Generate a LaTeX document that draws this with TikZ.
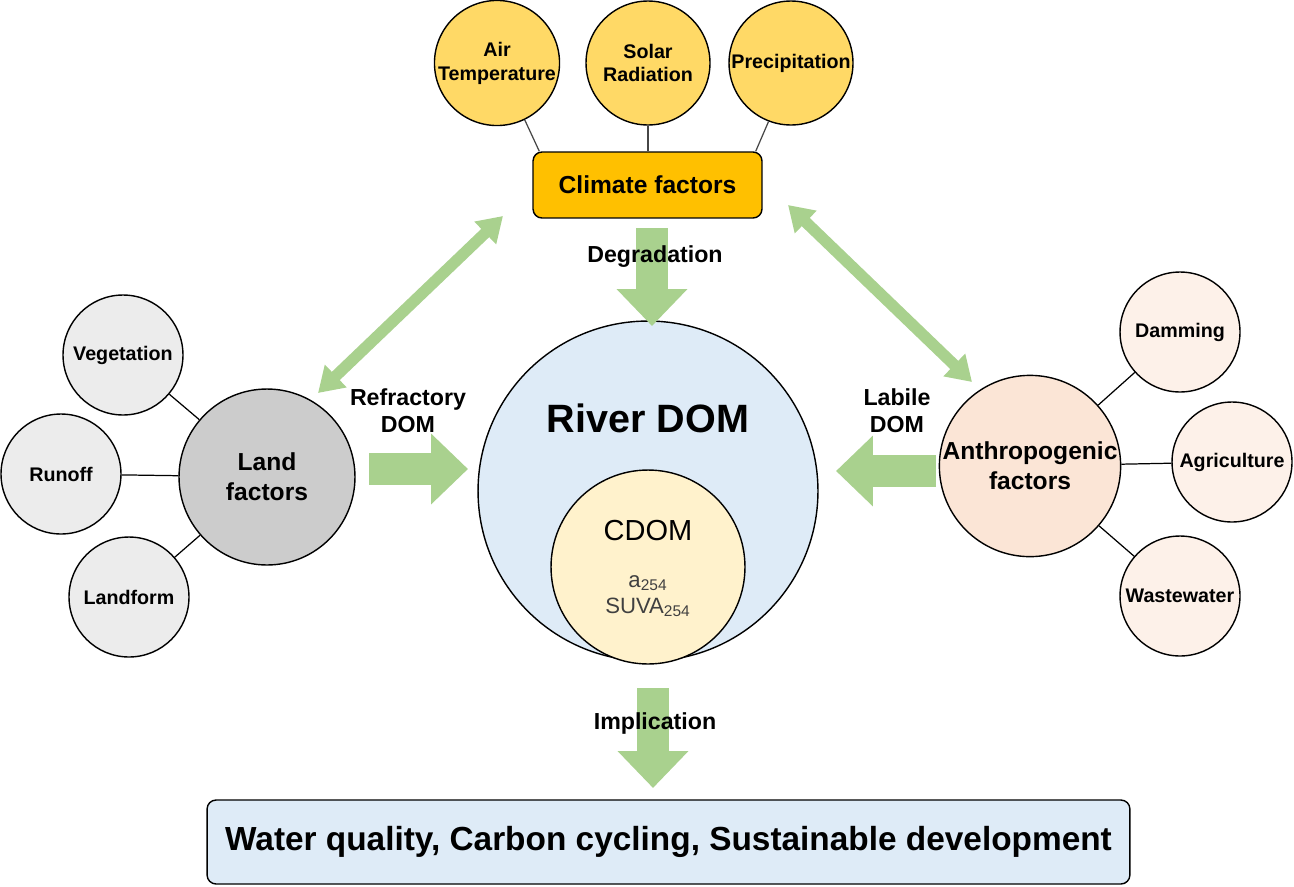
\documentclass[tikz,border=0pt]{standalone}
\usepackage{fontspec}
\setmainfont{Liberation Sans}
\usepackage{xcolor}
\definecolor{ArrowGreen}{RGB}{169,209,142}
\definecolor{ClimateFill}{RGB}{255,192,0}
\definecolor{ClimateNode}{RGB}{255,217,102}
\definecolor{LandFill}{RGB}{204,204,204}
\definecolor{LandNode}{RGB}{236,236,236}
\definecolor{HumanFill}{RGB}{251,229,214}
\definecolor{HumanNode}{RGB}{253,241,233}
\definecolor{RiverFill}{RGB}{222,235,247}
\definecolor{CdomFill}{RGB}{255,242,204}
\definecolor{LinkColor}{RGB}{70,70,70}
\usepackage{tikz}
\usetikzlibrary{
  positioning,
  arrows.meta,
  calc
}
\tikzset{
  % Small factor circle
  fnode/.style={
    circle,
    draw=black,
    line width=0.8pt,
    minimum size=2.4cm,
    inner sep=0pt,
    align=center,
    font=\fontsize{11.2}{13.6}\selectfont\bfseries
  },
  % Climate factor circle
  cnode/.style={fnode, fill=ClimateNode, minimum size=2.48cm},
  % Main factor circle
  mnode/.style={
    circle,
    draw=black,
    line width=0.8pt,
    minimum size=3.52cm,
    inner sep=0pt,
    align=center,
    font=\fontsize{14}{17}\selectfont\bfseries
  },
  % Rounded box
  rbox/.style={
    rectangle,
    rounded corners=0.18cm,
    draw=black,
    line width=0.8pt,
    inner sep=0pt,
    align=center
  },
  % Thin link between circles
  link/.style={
    draw=black,
    line width=0.7pt
  },
  % Fat process arrow
  fatarrow/.style={
    draw=ArrowGreen,
    line width=18pt,
    -{Triangle[width=39pt,length=21pt]}
  },
  % Two-way arrow
  twoway/.style={
    draw=ArrowGreen,
    line width=6.5pt,
    {Triangle[width=17pt,length=14pt]}-{Triangle[width=17pt,length=14pt]}
  },
  % Arrow label
  alabel/.style={
    font=\fontsize{13.2}{15.4}\selectfont\bfseries,
    align=center,
    inner sep=0pt
  }
}

\begin{document}
\begin{tikzpicture}[x=0.02cm, y=-0.02cm]
  \useasboundingbox (0,0) rectangle (1294,886);

  % Climate
  \node[cnode] (air)   at (497,63) {Air\\Temperature};
  \node[cnode] (solar) at (648,63) {Solar\\Radiation};
  \node[cnode] (prec)  at (791,63) {Precipitation};
  \node[rbox, fill=ClimateFill, minimum width=4.58cm, minimum height=1.32cm,
        font=\fontsize{14}{17}\selectfont\bfseries] (climate) at (647.5,185) {Climate factors};

  \draw[link, draw=LinkColor] (air.-64) -- ([xshift=0.14cm]climate.north west);
  \draw[link, draw=LinkColor] (solar.south) -- (solar.south |- climate.north);
  \draw[link, draw=LinkColor] (prec.-111) -- ([xshift=-0.14cm]climate.north east);

  % Land
  \node[mnode, fill=LandFill] (land) at (267,477) {Land\\factors};
  \node[fnode, fill=LandNode] (veg)      at (123,355) {Vegetation};
  \node[fnode, fill=LandNode] (runoff)   at (61,474)  {Runoff};
  \node[fnode, fill=LandNode] (landform) at (129,597) {Landform};

  \draw[link] (veg) -- (land);
  \draw[link] (runoff) -- (land);
  \draw[link] (landform) -- (land);

  % Anthropogenic
  \node[mnode, fill=HumanFill] (human) at (1030,466) {Anthropogenic\\factors};
  \node[fnode, fill=HumanNode] (dam)   at (1180,332) {Damming};
  \node[fnode, fill=HumanNode] (agri)  at (1232,462) {Agriculture};
  \node[fnode, fill=HumanNode] (waste) at (1180,596) {Wastewater};

  \draw[link] (human) -- (dam);
  \draw[link] (human) -- (agri);
  \draw[link] (human) -- (waste);

  % River DOM
  \node[circle, draw=black, line width=0.8pt, fill=RiverFill, minimum size=6.8cm] (river) at (648,491) {};
  \node[font=\fontsize{22.5}{26}\selectfont\bfseries] (rivertitle) at (648,418) {River DOM};
  \node[circle, draw=black, line width=0.8pt, fill=CdomFill, minimum size=3.88cm] (cdom) at (648,567) {};
  \node[font=\fontsize{16.5}{19}\selectfont, text=black] (cdomtitle) at (648,531) {CDOM};
  \node[align=center, font=\fontsize{12.6}{14.8}\selectfont, text=black!75] (cdomidx) at (648,596)
    {a\textsubscript{254}\\SUVA\textsubscript{254}};

  % Outcome
  \node[rbox, fill=RiverFill, minimum width=18.46cm, minimum height=1.68cm,
        font=\fontsize{19}{22}\selectfont\bfseries] (outcome) at (668.5,842)
    {Water quality, Carbon cycling, Sustainable development};

  % Arrows
  \coordinate (degs) at (652,228);   \coordinate (dege) at (652,326);
  \coordinate (imps) at (653,688);   \coordinate (impe) at (653,788);
  \coordinate (refs) at (369,469);   \coordinate (refe) at (468,469);
  \coordinate (labs) at (936,471);   \coordinate (labe) at (836,471);
  \coordinate (lwa)  at (318,393);   \coordinate (lwb)  at (503,216);
  \coordinate (rwa)  at (972,382);   \coordinate (rwb)  at (788,205);

  \draw[fatarrow] (degs) -- (dege);
  \draw[fatarrow] (imps) -- (impe);
  \draw[fatarrow] (refs) -- (refe);
  \draw[fatarrow] (labs) -- (labe);
  \draw[twoway] (lwa) -- (lwb);
  \draw[twoway] (rwa) -- (rwb);

  % Arrow labels
  \node[alabel] (deglabel) at (655,257) {Degradation};
  \node[alabel] (implabel) at (655,723) {Implication};
  \node[alabel] (reflabel) at (408,411) {Refractory\\DOM};
  \node[alabel] (lablabel) at (897,411) {Labile\\DOM};
\end{tikzpicture}
\end{document}
